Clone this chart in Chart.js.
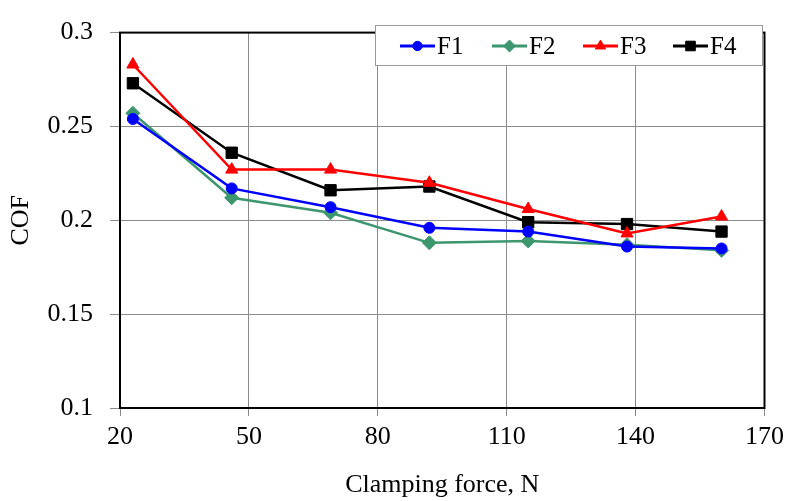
<!DOCTYPE html>
<html>
<head>
<meta charset="utf-8">
<title>COF vs clamping force</title>
<script src="https://cdn.jsdelivr.net/npm/chart.js@4.4.1/dist/chart.umd.min.js"></script>
<style>
    html, body { margin: 0; padding: 0; background: #fff; }
    canvas { display: block; }
</style>
</head>
<body>
<canvas id="cofChart" width="790" height="501"></canvas>
<script>
// clamping force, N
const forces = [23, 46, 69, 92, 115, 138, 160];
const seriesNames = ['F1', 'F2', 'F3', 'F4'];
const f1 = [0.254, 0.217, 0.207, 0.196, 0.194, 0.186, 0.185];
const f2 = [0.257, 0.212, 0.204, 0.188, 0.189, 0.187, 0.184];
const f3 = [0.283, 0.227, 0.227, 0.220, 0.206, 0.193, 0.202];
const f4 = [0.273, 0.236, 0.216, 0.218, 0.199, 0.198, 0.194];

const serif = "'Liberation Serif', 'Times New Roman', serif";
const gridGrey = '#8c8c8c';

function toPoints(vals) {
    return vals.map((v, i) => ({ x: forces[i], y: v }));
}

function makeSet(label, vals, color, style, radius) {
    return {
        label,
        data: toPoints(vals),
        borderColor: color,
        backgroundColor: color,
        borderWidth: 2.5,
        pointStyle: style,
        pointRadius: radius,
        pointBorderWidth: 1,
        pointBorderColor: color,
        pointBackgroundColor: color,
        tension: 0,
        fill: false
    };
}

// frame around the plot area
const framePlugin = {
    id: 'frame',
    beforeDatasetsDraw(chart) {
        const { ctx, chartArea: a } = chart;
        ctx.save();
        ctx.strokeStyle = '#000';
        ctx.lineWidth = 2;
        ctx.strokeRect(a.left, a.top, a.right - a.left, a.bottom - a.top);
        ctx.restore();
    }
};

// boxed legend with a short line + marker per series
const boxLegend = {
    id: 'boxLegend',
    afterDraw(chart) {
        const ctx = chart.ctx;
        const box = { left: 375, top: 25, right: 762, bottom: 65 };
        const starts = [400, 492, 583, 673];
        const cy = 46;
        ctx.save();
        ctx.fillStyle = '#fff';
        ctx.fillRect(box.left, box.top, box.right - box.left, box.bottom - box.top);
        ctx.strokeStyle = '#999';
        ctx.lineWidth = 1;
        ctx.strokeRect(box.left + 0.5, box.top + 0.5, box.right - box.left, box.bottom - box.top);

        chart.data.datasets.forEach((ds, i) => {
            const x0 = starts[i];
            ctx.strokeStyle = ds.borderColor;
            ctx.lineWidth = 3;
            ctx.beginPath();
            ctx.moveTo(x0, cy);
            ctx.lineTo(x0 + 35, cy);
            ctx.stroke();
            ctx.fillStyle = ds.borderColor;
            ctx.lineWidth = 1;
            Chart.helpers.drawPoint(ctx, {
                pointStyle: ds.pointStyle,
                rotation: 0,
                borderWidth: 1,
                radius: ds.pointRadius * 0.85
            }, x0 + 17.5, cy);
            ctx.fillStyle = '#000';
            ctx.font = '25px ' + serif;
            ctx.textBaseline = 'middle';
            ctx.textAlign = 'left';
            ctx.fillText(ds.label, x0 + 37, cy + 1);
        });
        ctx.restore();
    }
};

const ctx = document.getElementById('cofChart').getContext('2d');
const chart = new Chart(ctx, {
    type: 'line',
    data: {
        datasets: [
            makeSet(seriesNames[0], f1, '#0000ff', 'circle', 5.5),
            makeSet(seriesNames[1], f2, '#3c966e', 'rectRot', 7),
            makeSet(seriesNames[2], f3, '#ff0000', 'triangle', 7),
            makeSet(seriesNames[3], f4, '#000000', 'rect', 8)
        ]
    },
    options: {
        responsive: false,
        animation: false,
        layout: { padding: { left: 0, right: 23, top: 19, bottom: 0 } },
        plugins: {
            legend: { display: false },
            tooltip: { enabled: false }
        },
        scales: {
            x: {
                type: 'linear',
                min: 20,
                max: 170,
                afterFit(scale) { scale.height = 93; },
                ticks: {
                    stepSize: 30,
                    color: '#000',
                    padding: 6,
                    font: { family: serif, size: 26 }
                },
                grid: {
                    color: gridGrey,
                    lineWidth: 1,
                    tickLength: 8,
                    tickColor: gridGrey
                },
                border: { display: false },
                title: {
                    display: true,
                    text: 'Clamping force, N',
                    color: '#000',
                    font: { family: serif, size: 26 },
                    padding: { top: 2, bottom: 0 }
                }
            },
            y: {
                min: 0.1,
                max: 0.3,
                afterFit(scale) { scale.width = 120; },
                ticks: {
                    stepSize: 0.05,
                    color: '#000',
                    padding: 17,
                    font: { family: serif, size: 26 },
                    callback: v => String(+v.toFixed(2))
                },
                grid: {
                    color: gridGrey,
                    lineWidth: 1,
                    tickLength: 10,
                    tickColor: gridGrey
                },
                border: { display: false },
                title: {
                    display: true,
                    text: 'COF',
                    color: '#000',
                    font: { family: serif, size: 26 },
                    padding: { top: 6, bottom: 0 }
                }
            }
        }
    },
    plugins: [framePlugin, boxLegend]
});
</script>
</body>
</html>
